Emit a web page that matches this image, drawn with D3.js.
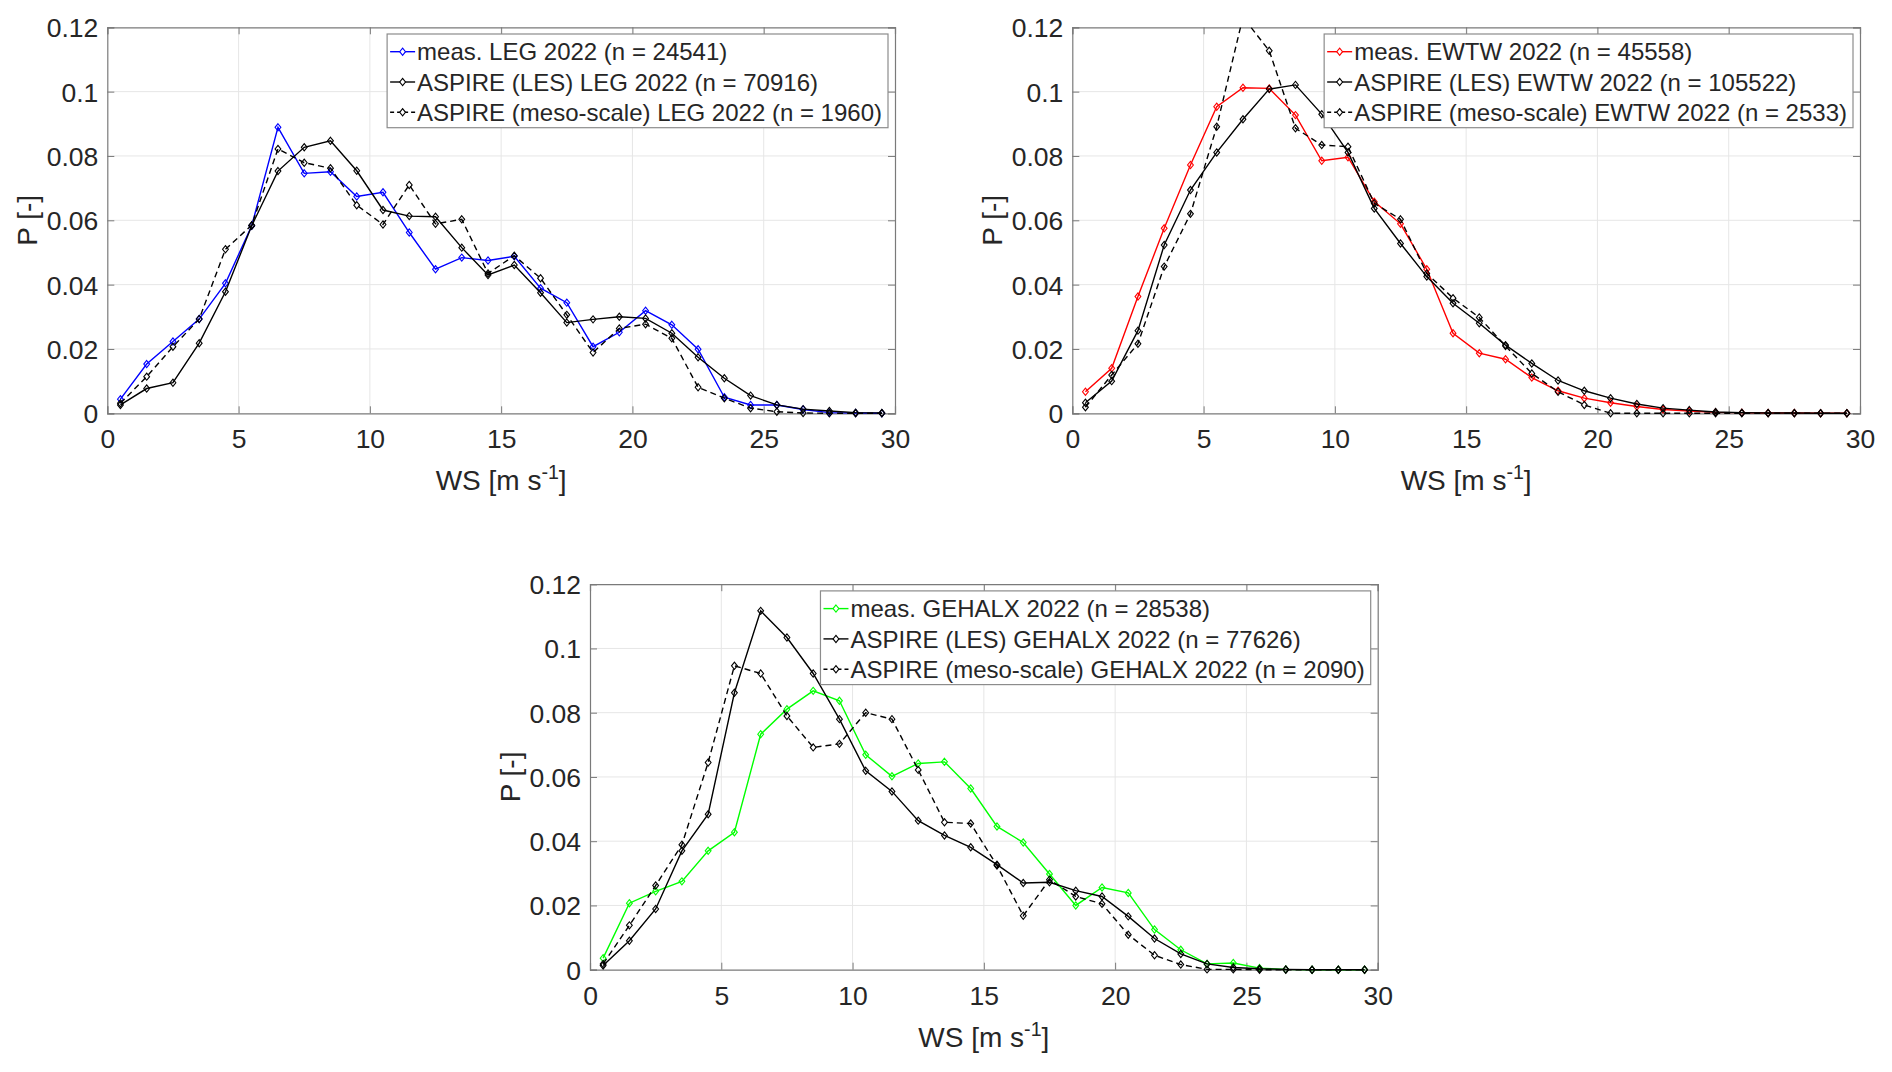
<!DOCTYPE html>
<html>
<head>
<meta charset="utf-8">
<script src="https://cdn.jsdelivr.net/npm/d3@7"></script>
<style>
  html, body { margin: 0; padding: 0; background: #fff; }
  svg { display: block; font-family: "Liberation Sans", Arial, sans-serif; }
</style>
</head>
<body>
<svg id="chart" width="1892" height="1072"></svg>
<script>
// ---- data ----
const windSpeed = [0.5,1.5,2.5,3.5,4.5,5.5,6.5,7.5,8.5,9.5,10.5,11.5,12.5,13.5,14.5,15.5,16.5,17.5,18.5,19.5,20.5,21.5,22.5,23.5,24.5,25.5,26.5,27.5,28.5,29.5];
const xTicks = [0,5,10,15,20,25,30];
const yTicks = [0,0.02,0.04,0.06,0.08,0.1,0.12];

const legMeas = [0.0044,0.0153,0.0223,0.0293,0.0404,0.0583,0.0889,0.0746,0.0751,0.0674,0.0687,0.0562,0.0448,0.0484,0.0475,0.0488,0.0389,0.0344,0.0207,0.0252,0.0319,0.0275,0.0199,0.0050,0.0026,0.0026,0.0012,0.0002,0.0001,0.0000];
const legLes  = [0.0026,0.0077,0.0095,0.0218,0.0378,0.0583,0.0753,0.0827,0.0847,0.0754,0.0632,0.0613,0.0611,0.0515,0.0430,0.0461,0.0375,0.0282,0.0292,0.0300,0.0295,0.0249,0.0174,0.0109,0.0055,0.0026,0.0013,0.0007,0.0002,0.0001];
const legMeso = [0.0031,0.0114,0.0207,0.0293,0.0510,0.0585,0.0822,0.0779,0.0762,0.0647,0.0587,0.0710,0.0589,0.0603,0.0435,0.0490,0.0420,0.0306,0.0189,0.0264,0.0277,0.0233,0.0081,0.0047,0.0016,0.0005,0.0001,0.0000,0.0000,0.0000];

const ewtwMeas = [0.0067,0.0140,0.0363,0.0575,0.0772,0.0953,0.1012,0.1010,0.0927,0.0785,0.0796,0.0658,0.0589,0.0448,0.0249,0.0187,0.0168,0.0111,0.0070,0.0047,0.0033,0.0021,0.0012,0.0007,0.0003,0.0002,0.0001,0.0001,0.0000,0.0000];
const ewtwLes  = [0.0033,0.0100,0.0257,0.0523,0.0694,0.0811,0.0914,0.1008,0.1021,0.0930,0.0811,0.0637,0.0528,0.0425,0.0342,0.0280,0.0212,0.0155,0.0102,0.0070,0.0047,0.0029,0.0016,0.0010,0.0004,0.0002,0.0001,0.0001,0.0000,0.0000];
const ewtwMeso = [0.0019,0.0119,0.0216,0.0456,0.0620,0.0891,0.1232,0.1127,0.0886,0.0834,0.0829,0.0653,0.0603,0.0435,0.0358,0.0298,0.0209,0.0124,0.0067,0.0026,0.0000,0.0000,0.0000,0.0000,0.0000,0.0000,0.0000,0.0000,0.0000,0.0000];

const gehMeas = [0.0036,0.0207,0.0244,0.0275,0.0370,0.0428,0.0733,0.0811,0.0868,0.0837,0.0669,0.0602,0.0642,0.0647,0.0564,0.0446,0.0396,0.0298,0.0200,0.0256,0.0239,0.0125,0.0062,0.0018,0.0021,0.0005,0.0001,0.0000,0.0000,0.0000];
const gehLes  = [0.0013,0.0090,0.0189,0.0370,0.0484,0.0862,0.1117,0.1034,0.0922,0.0780,0.0619,0.0555,0.0464,0.0418,0.0381,0.0327,0.0270,0.0272,0.0246,0.0228,0.0166,0.0097,0.0049,0.0018,0.0007,0.0003,0.0001,0.0000,0.0000,0.0000];
const gehMeso = [0.0018,0.0138,0.0262,0.0389,0.0645,0.0946,0.0922,0.0790,0.0692,0.0703,0.0800,0.0780,0.0622,0.0459,0.0455,0.0324,0.0168,0.0280,0.0228,0.0205,0.0109,0.0045,0.0016,0.0001,0.0001,0.0000,0.0000,0.0000,0.0000,0.0000];

const legLabels  = ["meas. LEG 2022 (n = 24541)", "ASPIRE (LES) LEG 2022 (n = 70916)", "ASPIRE (meso-scale) LEG 2022 (n = 1960)"];
const ewtwLabels = ["meas. EWTW 2022 (n = 45558)", "ASPIRE (LES) EWTW 2022 (n = 105522)", "ASPIRE (meso-scale) EWTW 2022 (n = 2533)"];
const gehLabels  = ["meas. GEHALX 2022 (n = 28538)", "ASPIRE (LES) GEHALX 2022 (n = 77626)", "ASPIRE (meso-scale) GEHALX 2022 (n = 2090)"];

// ---- layout / style ----
const panels = [
  { left: 107.3, top: 27.3, width: 787.7, height: 386, series: [legMeas, legLes, legMeso], labels: legLabels, color: "#0000ff" },
  { left: 1072.3, top: 27.3, width: 787.7, height: 386, series: [ewtwMeas, ewtwLes, ewtwMeso], labels: ewtwLabels, color: "#ff0000" },
  { left: 590, top: 584.2, width: 787.7, height: 385.5, series: [gehMeas, gehLes, gehMeso], labels: gehLabels, color: "#00ff00" }
];
const textColor = "#262626";
const axisColor = "#7a7a7a";
const gridColor = "#e6e6e6";
const tickFont = 26.5, labelFont = 28, legendFont = 24;

const svg = d3.select("#chart");
svg.append("rect").attr("width", 1892).attr("height", 1072).attr("fill", "#fff");

const diamond = "M0,-3.6L2.9,0L0,3.6L-2.9,0Z";

panels.forEach((p, pi) => {
  const x = d3.scaleLinear().domain([0, 30]).range([0, p.width]);
  const y = d3.scaleLinear().domain([0, 0.12]).range([p.height, 0]);
  const g = svg.append("g").attr("transform", `translate(${p.left},${p.top})`);

  const clipId = "clip" + pi;
  g.append("clipPath").attr("id", clipId).append("rect")
    .attr("x", 0).attr("y", 0).attr("width", p.width).attr("height", p.height + 2);

  // grid
  g.append("g").selectAll("line").data(xTicks.slice(1, -1)).join("line")
    .attr("x1", d => x(d)).attr("x2", d => x(d)).attr("y1", 0).attr("y2", p.height)
    .attr("stroke", gridColor).attr("stroke-width", 1);
  g.append("g").selectAll("line").data(yTicks.slice(1, -1)).join("line")
    .attr("y1", d => y(d)).attr("y2", d => y(d)).attr("x1", 0).attr("x2", p.width)
    .attr("stroke", gridColor).attr("stroke-width", 1);

  // axes (ticks inside)
  const fmtY = d => d === 0 ? "0" : String(+d.toFixed(2));
  const ax = g.append("g").attr("transform", `translate(0,${p.height})`)
    .call(d3.axisBottom(x).tickValues(xTicks).tickSize(-7).tickPadding(16).tickFormat(d3.format("d")));
  const ay = g.append("g")
    .call(d3.axisLeft(y).tickValues(yTicks).tickSize(-7).tickPadding(9).tickFormat(fmtY));
  const axT = g.append("g")
    .call(d3.axisTop(x).tickValues(xTicks).tickSize(-7).tickFormat(""));
  const ayR = g.append("g").attr("transform", `translate(${p.width},0)`)
    .call(d3.axisRight(y).tickValues(yTicks).tickSize(-7).tickFormat(""));
  [ax, ay, axT, ayR].forEach(a => {
    a.select(".domain").attr("stroke", axisColor).attr("stroke-width", 1.2);
    a.selectAll(".tick line").attr("stroke", axisColor).attr("stroke-width", 1);
    a.selectAll(".tick text").attr("fill", textColor).attr("font-size", tickFont)
      .attr("font-family", "'Liberation Sans', Arial, sans-serif");
  });
  ax.selectAll(".tick text").attr("dy", "0.71em");
  ay.selectAll(".tick text").attr("dy", "0.36em");

  // axis labels
  const xl = g.append("text").attr("x", p.width / 2).attr("y", p.height + 77)
    .attr("text-anchor", "middle").attr("fill", textColor).attr("font-size", labelFont);
  xl.append("tspan").text("WS [m s");
  xl.append("tspan").attr("font-size", labelFont * 0.7).attr("dy", -11).text("-1");
  xl.append("tspan").attr("dy", 11).text("]");

  g.append("text").attr("transform", `translate(${-70},${p.height / 2}) rotate(-90)`)
    .attr("text-anchor", "middle").attr("fill", textColor).attr("font-size", labelFont)
    .text("P [-]");

  // series
  const colors = [p.color, "#000", "#000"];
  const dashes = [null, null, "6,4"];
  const line = d3.line().x((d, i) => x(windSpeed[i])).y(d => y(d));
  p.series.forEach((vals, si) => {
    g.append("path").datum(vals).attr("d", line)
      .attr("fill", "none").attr("stroke", colors[si]).attr("stroke-width", 1.4)
      .attr("stroke-dasharray", dashes[si]).attr("clip-path", `url(#${clipId})`);
    g.append("g").selectAll("path").data(vals.map((v, i) => [windSpeed[i], v]).filter(d => d[1] <= 0.12))
      .join("path").attr("d", diamond)
      .attr("transform", d => `translate(${x(d[0])},${y(d[1])})`)
      .attr("fill", "none").attr("stroke", colors[si]).attr("stroke-width", 1.1);
  });

  // legend
  const lg = g.append("g");
  const texts = p.labels.map((t, i) => lg.append("text").attr("font-size", legendFont)
    .attr("fill", textColor).text(t));
  const maxLen = d3.max(texts, t => t.node().getComputedTextLength());
  const boxW = 30 + maxLen + 6;
  const boxH = 93.7;
  const bx = p.width - 7 - boxW, by = 6.7;
  lg.insert("rect", ":first-child").attr("x", bx).attr("y", by).attr("width", boxW).attr("height", boxH)
    .attr("fill", "#fff").attr("stroke", "#8c8c8c").attr("stroke-width", 1.2);
  texts.forEach((t, i) => {
    const cy = by + 17.7 + i * 30.3;
    t.attr("x", bx + 30).attr("y", cy).attr("dy", "0.36em");
    lg.append("line").attr("x1", bx + 3).attr("x2", bx + 28).attr("y1", cy).attr("y2", cy)
      .attr("stroke", colors[i]).attr("stroke-width", 1.4).attr("stroke-dasharray", dashes[i] ? "4,3" : null);
    lg.append("path").attr("d", diamond).attr("transform", `translate(${bx + 15.5},${cy})`)
      .attr("fill", "#fff").attr("stroke", colors[i]).attr("stroke-width", 1.1);
  });
});
</script>
</body>
</html>
